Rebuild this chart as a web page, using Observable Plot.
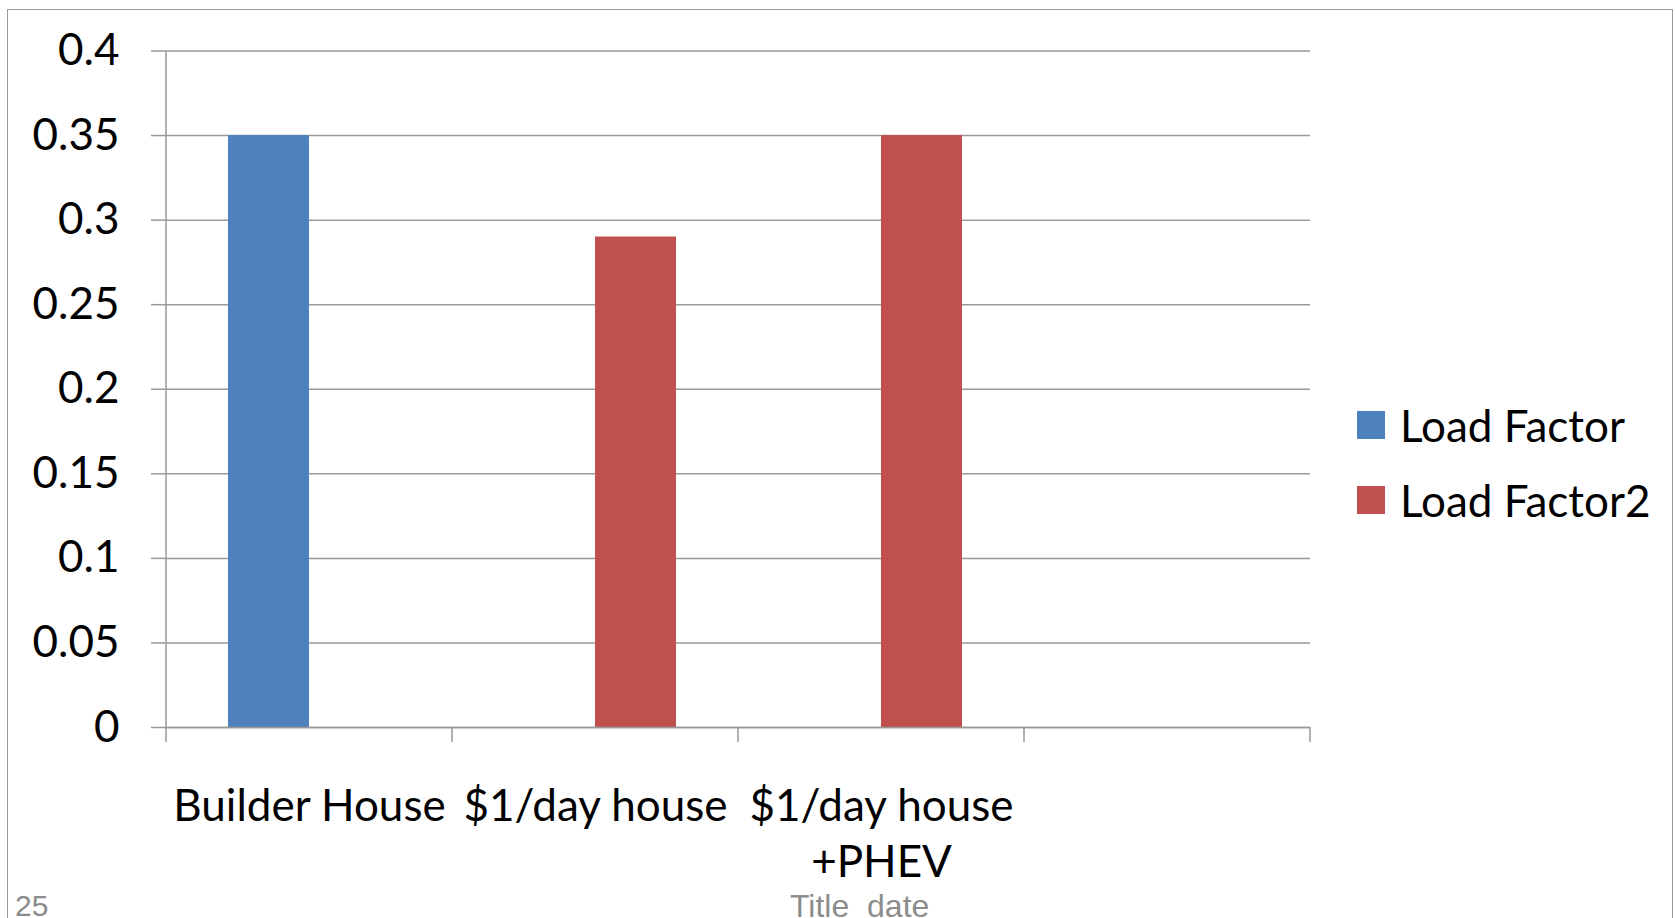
<!DOCTYPE html>
<html>
<head>
<meta charset="utf-8">
<script src="https://cdn.jsdelivr.net/npm/d3@7"></script>
<script src="https://cdn.jsdelivr.net/npm/@observablehq/plot@0.6"></script>
<style>
  html, body { margin: 0; padding: 0; background: #fff; }
  #wrap { position: relative; width: 1675px; height: 918px; overflow: hidden; font-family: Lato, sans-serif; }
  #border { position: absolute; left: 7px; top: 9px; width: 1666px; height: 1000px; border: 1.5px solid #9a9a9a; box-sizing: border-box; }
  #chart { position: absolute; left: 0; top: 0; }
  .legend { position: absolute; left: 1357px; font-size: 44px; color: #000; display: flex; align-items: center; white-space: nowrap; }
  .legend span.sw { display: inline-block; width: 28px; height: 28px; margin-right: 15px; }
  .foot { position: absolute; font-family: "Liberation Sans", Arial, sans-serif; font-size: 30px; color: #8c8c8c; white-space: pre; line-height: 1; }
</style>
</head>
<body>
<div id="wrap">
  <div id="border"></div>
  <div id="chart"></div>
  <div id="legend"></div>
  <div class="foot" style="left:15px; top:891px;">25</div>
  <div class="foot" style="left:790px; top:890px; font-size:32px;">Title  date</div>
</div>
<script>
const categories = ["Builder House", "$1/day house", "$1/day house +PHEV", ""];
const series = ["Load Factor", "Load Factor2"];
const loadFactor = [0.35, null, null, null];
const loadFactor2 = [null, 0.29, 0.35, null];
const yTicks = [0, 0.05, 0.1, 0.15, 0.2, 0.25, 0.3, 0.35, 0.4];
const colors = ["#4F81BD", "#C0504D"];

const rows = [];
categories.forEach((c, i) => {
  [loadFactor, loadFactor2].forEach((vals, s) => {
    if (vals[i] != null) rows.push({category: c, series: series[s], value: vals[i]});
  });
});

const gridColor = "#999999";

const plot = Plot.plot({
  width: 1675,
  height: 918,
  marginLeft: 165,
  marginRight: 365,
  marginTop: 50.5,
  marginBottom: 191,
  style: {fontFamily: "Lato, sans-serif", fontSize: "44px", background: "transparent", color: "#000"},
  fx: {domain: categories, paddingInner: 0, paddingOuter: 0, axis: null, label: null},
  x: {domain: series, paddingInner: 0, paddingOuter: 0.756, axis: null, label: null},
  y: {domain: [0, 0.4], axis: null, label: null},
  color: {domain: series, range: colors},
  marks: [
    Plot.gridY(yTicks, {stroke: gridColor, strokeOpacity: 1, strokeWidth: 1.5}),
    Plot.barY(rows, {fx: "category", x: "series", y: "value", fill: "series"}),
    // baseline drawn in every category facet (keeps the empty 4th category visible)
    Plot.ruleY(categories, {fx: d => d, y: 0, stroke: gridColor, strokeWidth: 1.5}),
    Plot.axisY({ticks: yTicks, tickSize: 15, tickPadding: 32, fontSize: 44, tickFormat: d => String(d), stroke: gridColor, strokeWidth: 1.5, fill: "#000"}),
    Plot.axisFx({anchor: "bottom", tickSize: 0, tickPadding: 54, fontSize: 44, lineHeight: 1.27, tickFormat: d => d.replace(" +", "\n+"), fill: "#000", label: null})
  ]
});

document.getElementById("chart").appendChild(plot);

// axis line and category boundary tick marks, placed from the fx and y scales
const fx = plot.scale("fx");
const y = plot.scale("y");
const svg = d3.select(plot.tagName.toLowerCase() === "svg" ? plot : plot.querySelector("svg"));
const edges = categories.map(c => fx.apply(c)).concat([fx.apply(categories[categories.length - 1]) + fx.bandwidth]);
const y0 = y.apply(0);
const yTop = y.apply(yTicks[yTicks.length - 1]);
const g = svg.append("g").attr("stroke", gridColor).attr("stroke-width", 1.5);
g.append("line")
  .attr("x1", edges[0]).attr("x2", edges[0])
  .attr("y1", yTop).attr("y2", y0);
g.selectAll("line.tk")
  .data(edges)
  .join("line")
  .attr("class", "tk")
  .attr("x1", d => d).attr("x2", d => d)
  .attr("y1", y0).attr("y2", y0 + 15);

// legend
const legend = document.getElementById("legend");
const legendTops = [399, 474];
series.forEach((s, i) => {
  const el = document.createElement("div");
  el.className = "legend";
  el.style.top = legendTops[i] + "px";
  el.innerHTML = `<span class="sw" style="background:${colors[i]}"></span><span>${s}</span>`;
  legend.appendChild(el);
});
</script>
</body>
</html>
